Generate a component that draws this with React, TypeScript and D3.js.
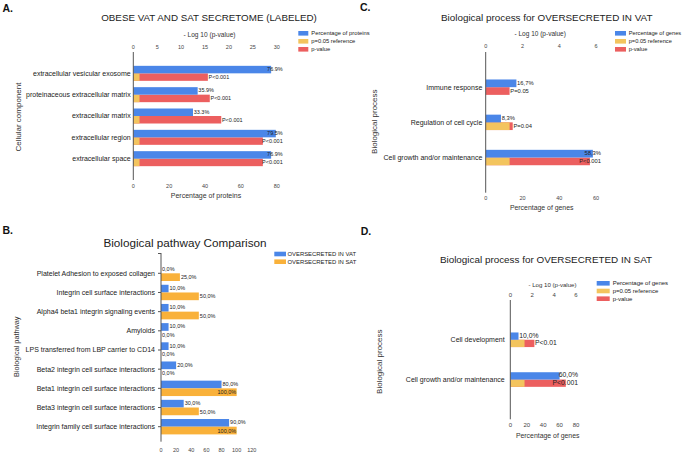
import React from 'react';
import * as d3 from 'd3';

// colours used by the original (Google Sheets style)
const BLUE = '#4a86e8';
const YELLOW = '#f3c45e';
const RED = '#ec5f5f';
const ORANGE = '#f9b13a';
const FONT = '"Liberation Sans", Arial, Helvetica, sans-serif';

// ---- panel A : cellular component
const aCategories = [
  'extracellular vesicular exosome',
  'proteinaceous extracellular matrix',
  'extracellular matrix',
  'extracellular region',
  'extracellular space',
];
const aPercent = [76.9, 35.9, 33.3, 79.5, 76.9];
const aPercentLabels = ['76.9%', '35.9%', '33.3%', '79.5%', '76.9%'];
const aReference = [1.3, 1.3, 1.3, 1.3, 1.3];
const aLogP = [15.6, 16.0, 18.4, 27.1, 27.1];
const aPLabels = ['P<0.001', 'P<0.001', 'P<0.001', 'P<0.001', 'P<0.001'];
const aPercentTicks = [0, 20, 40, 60, 80];
const aLogTicks = [0, 5, 10, 15, 20, 25, 30];

// ---- panel B : pathway comparison
const bCategories = [
  'Platelet Adhesion to exposed collagen',
  'Integrin cell surface interactions',
  'Alpha4 beta1 integrin signaling events',
  'Amyloids',
  'LPS transferred from LBP carrier to CD14',
  'Beta2 integrin cell surface interactions',
  'Beta1 integrin cell surface interactions',
  'Beta3 integrin cell surface interactions',
  'Integrin family cell surface interactions',
];
const bVat = [0, 10, 10, 10, 10, 20, 80, 30, 90];
const bSat = [25, 50, 50, 0, 0, 0, 100, 50, 100];
const bTicks = [0, 20, 40, 60, 80, 100, 120];

// ---- panel C : oversecreted in VAT
const cCategories = ['Immune response', 'Regulation of cell cycle', 'Cell growth and/or maintenance'];
const cPercent = [16.7, 8.3, 58.3];
const cPercentLabels = ['16,7%', '8,3%', '58,3%'];
const cReference = [0, 1.3, 1.3];
const cLogP = [1.3, 1.47, 5.67];
const cPLabels = ['P=0.05', 'P=0.04', 'P<0.001'];
const cPercentTicks = [0, 20, 40, 60];
const cLogTicks = [0, 2, 4, 6];

// ---- panel D : oversecreted in SAT
const dCategories = ['Cell development', 'Cell growth and/or maintenance'];
const dPercent = [10, 60];
const dPercentLabels = ['10,0%', '60,0%'];
const dReference = [1.3, 1.3];
const dLogP = [2.2, 5.07];
const dPLabels = ['P<0.01', 'P<0.001'];
const dPercentTicks = [0, 20, 40, 60, 80];
const dLogTicks = [0, 2, 4, 6];

// rough Arial widths, enough to keep labels inside the plot
const CW: Record<string, number> = { '.': 0.278, ',': 0.278, '%': 0.889, P: 0.667, '<': 0.584, '=': 0.584 };
const textWidth = (s: string, fs: number) => {
  let w = 0;
  for (const ch of s) w += CW[ch] ?? 0.556;
  return w * fs;
};

function DualPanel(p: any) {
  const y = d3.scalePoint<string>().domain(p.categories).range([p.yTop, p.yBottom]).padding(1);
  const xPct = d3.scaleLinear().domain([0, p.pctTicks[p.pctTicks.length - 1]]).range([p.x0, p.x1]);
  const xLog = d3.scaleLinear().domain([0, p.logTicks[p.logTicks.length - 1]]).range([p.x0, p.x1]);
  const h = p.barH;
  const place = (end: number, txt: string) => {
    let x = end + 0.7;
    const w = textWidth(txt, p.labelFs);
    if (x + w > p.limit) x = p.limit - w;
    return x;
  };
  const legend = [
    { c: BLUE, t: p.legendLabel },
    { c: YELLOW, t: 'p=0.05 reference' },
    { c: RED, t: 'p-value' },
  ];
  return (
    <g fontFamily={FONT}>
      <text x={p.letter.x} y={p.letter.y} fontSize={10.5} fontWeight="bold" fill="#111">{p.letter.t}</text>
      <text x={p.title.x} y={p.title.y} fontSize={p.title.fs} textAnchor="middle" fill="#222">{p.title.t}</text>
      <text x={p.topTitle.x} y={p.topTitle.y} fontSize={p.topTitle.fs} textAnchor="middle" fill="#333">- Log 10 (p-value)</text>
      <text x={p.bottomTitle.x} y={p.bottomTitle.y} fontSize={p.bottomTitle.fs} textAnchor="middle" fill="#333">{p.bottomTitle.t}</text>
      <text transform={`translate(${p.yTitle.x},${p.yTitle.y}) rotate(-90)`} fontSize={p.yTitle.fs} textAnchor="middle" fill="#333">{p.yTitle.t}</text>
      {p.logTicks.map((t: number) => (
        <text key={'lt' + t} x={xLog(t)} y={p.topTickY} fontSize={p.tickFs} textAnchor="middle" fill="#444">{t}</text>
      ))}
      {p.pctTicks.map((t: number) => (
        <text key={'pt' + t} x={xPct(t)} y={p.bottomTickY} fontSize={p.tickFs} textAnchor="middle" fill="#444">{t}</text>
      ))}
      {p.categories.map((c: string, i: number) => {
        const cy = y(c)!;
        return (
          <g key={c}>
            <text x={p.catX} y={cy} dy="0.35em" fontSize={7} textAnchor="end" fill="#222">{c}</text>
            <rect x={p.x0} y={cy} width={xLog(p.logP[i]) - p.x0} height={h} fill={RED} />
            <rect x={p.x0} y={cy} width={xLog(p.reference[i]) - p.x0} height={h} fill={YELLOW} />
            <rect x={p.x0} y={cy - h} width={xPct(p.percent[i]) - p.x0} height={h} fill={BLUE} />
          </g>
        );
      })}
      {p.categories.map((c: string, i: number) => {
        const cy = y(c)!;
        return (
          <g key={'l' + c} fontSize={p.labelFs} fill="#222">
            <text x={place(xPct(p.percent[i]), p.percentLabels[i])} y={cy - 2.2}>{p.percentLabels[i]}</text>
            <text x={place(xLog(p.logP[i]), p.pLabels[i])} y={cy + 5.6}>{p.pLabels[i]}</text>
          </g>
        );
      })}
      <line x1={p.x0} x2={p.x0} y1={p.yTop} y2={p.yBottom} stroke="#555" strokeWidth={1} />
      {legend.map((l, i) => (
        <g key={l.t}>
          <rect x={p.legend.x} y={p.legend.y + i * p.legend.dy - 2.3} width={p.legend.sw} height={4.6} fill={l.c} />
          <text x={p.legend.x + p.legend.tx} y={p.legend.y + i * p.legend.dy + 2} fontSize={p.legend.fs} fill="#222">{l.t}</text>
        </g>
      ))}
    </g>
  );
}

function ComparisonPanel() {
  const x0 = 161;
  const x1 = 251.8;
  const x = d3.scaleLinear().domain([0, bTicks[bTicks.length - 1]]).range([x0, x1]);
  const y = d3.scalePoint<string>().domain(bCategories).range([273.3, 426.7]);
  const h = 7.7;
  const fs = 5.5;
  const fmt = (v: number) => v.toFixed(1).replace('.', ',') + '%';
  const lab = (v: number) => {
    const end = x(v);
    const w = textWidth(fmt(v), fs);
    return end + 1 + w > x1 ? end - w - 0.5 : end + 1;
  };
  return (
    <g fontFamily={FONT}>
      <text x={2.5} y={234} fontSize={10.5} fontWeight="bold" fill="#111">B.</text>
      <text x={185} y={246.7} fontSize={11.7} textAnchor="middle" fill="#222">Biological pathway Comparison</text>
      <text transform="translate(19,346.7) rotate(-90)" fontSize={7.3} textAnchor="middle" fill="#333">Biological pathway</text>
      {bTicks.map((t) => (
        <text key={t} x={x(t)} y={451.5} fontSize={5.5} textAnchor="middle" fill="#444">{t}</text>
      ))}
      {bCategories.map((c, i) => {
        const cy = y(c)!;
        return (
          <g key={c}>
            <text x={155} y={cy} dy="0.35em" fontSize={7} textAnchor="end" fill="#222">{c}</text>
            <line x1={x0 - 3} x2={x0} y1={cy} y2={cy} stroke="#555" />
            <rect x={x0} y={cy - h} width={x(bVat[i]) - x0} height={h} fill={BLUE} />
            <rect x={x0} y={cy} width={x(bSat[i]) - x0} height={h} fill={ORANGE} />
            <text x={lab(bVat[i])} y={cy - 2.4} fontSize={fs} fill="#222">{fmt(bVat[i])}</text>
            <text x={lab(bSat[i])} y={cy + 6} fontSize={fs} fill="#222">{fmt(bSat[i])}</text>
          </g>
        );
      })}
      <line x1={x0} x2={x0} y1={253} y2={441.7} stroke="#555" />
      <line x1={x0 - 3} x2={x0} y1={253.5} y2={253.5} stroke="#555" />
      {['OVERSECRETED IN VAT', 'OVERSECRETED IN SAT'].map((t, i) => (
        <g key={t}>
          <rect x={274.3} y={254 + i * 7.7 - 2.3} width={11.7} height={4.6} fill={i === 0 ? BLUE : ORANGE} />
          <text x={287.5} y={254 + i * 7.7 + 2} fontSize={5.9} fill="#222">{t}</text>
        </g>
      ))}
    </g>
  );
}

export default function App() {
  return (
    <svg width={685} height={457} style={{ position: 'absolute', left: 0, top: 0, background: '#fff' }}>
      <DualPanel
        categories={aCategories} percent={aPercent} percentLabels={aPercentLabels}
        reference={aReference} logP={aLogP} pLabels={aPLabels}
        pctTicks={aPercentTicks} logTicks={aLogTicks}
        x0={133.3} x1={276.7} yTop={52} yBottom={180} barH={7.5}
        labelFs={5.5} limit={282.7} catX={130.7}
        topTickY={48.5} bottomTickY={188.3} tickFs={5.5}
        letter={{ t: 'A.', x: 2.5, y: 11.7 }}
        title={{ t: 'OBESE VAT AND SAT SECRETOME (LABELED)', x: 209, y: 21, fs: 9.8 }}
        topTitle={{ x: 209.5, y: 36.5, fs: 6.6 }}
        bottomTitle={{ t: 'Percentage of proteins', x: 206, y: 197.5, fs: 7 }}
        yTitle={{ t: 'Cellular component', x: 21, y: 117, fs: 8 }}
        legendLabel="Percentage of proteins"
        legend={{ x: 298.3, y: 33.3, dy: 8, sw: 10, tx: 13, fs: 5.8 }}
      />
      <ComparisonPanel />
      <DualPanel
        categories={cCategories} percent={cPercent} percentLabels={cPercentLabels}
        reference={cReference} logP={cLogP} pLabels={cPLabels}
        pctTicks={cPercentTicks} logTicks={cLogTicks}
        x0={485.7} x1={596} yTop={52} yBottom={192.7} barH={7.7}
        labelFs={5.8} limit={601} catX={482.3}
        topTickY={48.3} bottomTickY={200} tickFs={5.5}
        letter={{ t: 'C.', x: 360, y: 11.2 }}
        title={{ t: 'Biological process for OVERSECRETED IN VAT', x: 546.7, y: 21, fs: 9.9 }}
        topTitle={{ x: 540.2, y: 35.5, fs: 6.5 }}
        bottomTitle={{ t: 'Percentage of genes', x: 541.7, y: 210, fs: 6.9 }}
        yTitle={{ t: 'Biological process', x: 377, y: 121.7, fs: 8 }}
        legendLabel="Percentage of genes"
        legend={{ x: 615, y: 33.3, dy: 8, sw: 11, tx: 13.7, fs: 5.7 }}
      />
      <DualPanel
        categories={dCategories} percent={dPercent} percentLabels={dPercentLabels}
        reference={dReference} logP={dLogP} pLabels={dPLabels}
        pctTicks={dPercentTicks} logTicks={dLogTicks}
        x0={510.3} x1={576} yTop={300} yBottom={419.3} barH={7.3}
        labelFs={6.8} limit={578} catX={504.7}
        topTickY={296.7} bottomTickY={426.7} tickFs={6}
        letter={{ t: 'D.', x: 360.7, y: 235 }}
        title={{ t: 'Biological process for OVERSECRETED IN SAT', x: 546, y: 262.7, fs: 9.9 }}
        topTitle={{ x: 552.5, y: 286.7, fs: 6.1 }}
        bottomTitle={{ t: 'Percentage of genes', x: 547.7, y: 438, fs: 6.9 }}
        yTitle={{ t: 'Biological process', x: 381.5, y: 361.7, fs: 8 }}
        legendLabel="Percentage of genes"
        legend={{ x: 596.7, y: 283.3, dy: 7.7, sw: 13, tx: 16, fs: 6 }}
      />
    </svg>
  );
}
